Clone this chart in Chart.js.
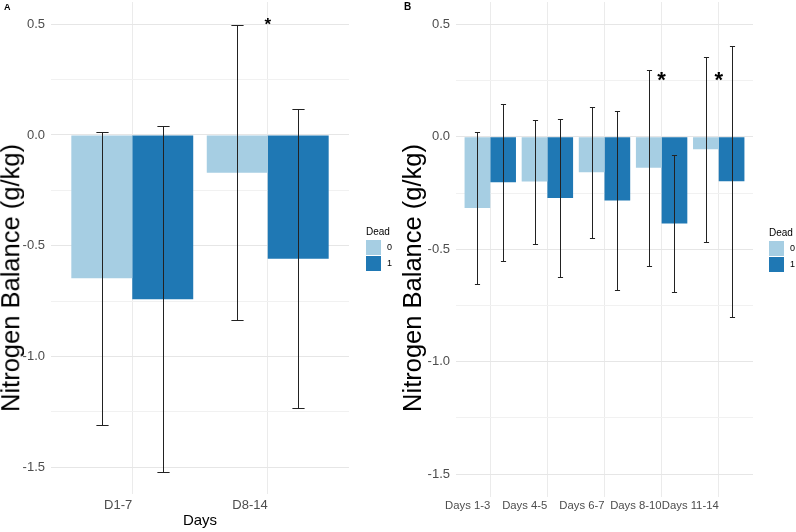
<!DOCTYPE html>
<html lang="en">
<head>
<meta charset="UTF-8">
<title>Nitrogen Balance</title>
<script src="https://cdn.jsdelivr.net/npm/chart.js"></script>
<style>
  body { margin: 0; background: #fff; font-family: 'Liberation Sans', Arial, sans-serif; }
  #wrap { position: relative; width: 796px; height: 532px; overflow: hidden; }
  .panel { position: absolute; top: 0; width: 398px; height: 532px; }
  .tag { position: absolute; font-weight: bold; color: #000; }
  .ytitle {
    position: absolute; font-size: 25.5px; line-height: 1; white-space: nowrap; color: #000;
    transform: translate(-50%, -50%) rotate(-90deg);
  }
  .leg-title { position: absolute; font-size: 10px; color: #000; }
  .key { position: absolute; width: 15px; height: 15px; }
  .key-lab { position: absolute; font-size: 9px; color: #000; line-height: 15px; }
</style>
</head>
<body>
<div id="wrap">
  <div class="panel" style="left:0"><canvas id="chartA" width="398" height="532"></canvas></div>
  <div class="panel" style="left:398px"><canvas id="chartB" width="398" height="532"></canvas></div>

  <div class="tag" style="left:4px; top:2px; font-size:9px">A</div>
  <div class="tag" style="left:404px; top:1px; font-size:10px">B</div>

  <div class="ytitle" style="left:10.5px; top:278px">Nitrogen Balance (g/kg)</div>
  <div class="ytitle" style="left:413px; top:278px">Nitrogen Balance (g/kg)</div>

  <div class="leg-title" style="left:366px; top:226px">Dead</div>
  <div class="key" style="left:366px; top:240px; background:#A6CEE3"></div>
  <div class="key" style="left:366px; top:256px; background:#1F78B4"></div>
  <div class="key-lab" style="left:387px; top:240px">0</div>
  <div class="key-lab" style="left:387px; top:256px">1</div>

  <div class="leg-title" style="left:769px; top:227px">Dead</div>
  <div class="key" style="left:769px; top:241px; background:#A6CEE3"></div>
  <div class="key" style="left:769px; top:257px; background:#1F78B4"></div>
  <div class="key-lab" style="left:790px; top:241px">0</div>
  <div class="key-lab" style="left:790px; top:257px">1</div>
</div>

<script>
  // panel A
  const daysA = ['D1-7', 'D8-14'];
  const aliveA = [-0.647, -0.170];
  const deadA = [-0.741, -0.558];
  const aliveErrA = [0.660, 0.667];
  const deadErrA = [0.780, 0.676];
  const starCatA = [2];
  const starValA = [0.514];

  // panel B
  const daysB = ['Days 1-3', 'Days 4-5', 'Days 6-7', 'Days 8-10', 'Days 11-14'];
  const aliveB = [-0.317, -0.199, -0.157, -0.137, -0.055];
  const deadB = [-0.202, -0.272, -0.283, -0.385, -0.198];
  const aliveErrB = [0.337, 0.276, 0.291, 0.436, 0.412];
  const deadErrB = [0.349, 0.352, 0.397, 0.303, 0.603];
  const starCatB = [4, 5];
  const starValB = [0.271, 0.271];

  const yMajor = [-1.5, -1.0, -0.5, 0.0, 0.5];
  const yMinor = [-1.25, -0.75, -0.25, 0.25];

  const LIGHT = '#A6CEE3';
  const DARK = '#1F78B4';
  const FONT = "'Liberation Sans', Arial, sans-serif";

  const errorBars = {
    id: 'errorBars',
    afterDatasetsDraw(chart) {
      const ctx = chart.ctx;
      const y = chart.scales.y;
      ctx.save();
      ctx.strokeStyle = '#222';
      ctx.lineWidth = 1;
      chart.data.datasets.forEach((ds, di) => {
        const meta = chart.getDatasetMeta(di);
        meta.data.forEach((bar, i) => {
          const m = ds.data[i].y;
          const e = ds.err[i];
          const top = Math.round(y.getPixelForValue(m + e)) + 0.5;
          const bot = Math.round(y.getPixelForValue(m - e)) + 0.5;
          const cx = Math.round(bar.x) + 0.5;
          const hw = bar.width * 0.1;
          ctx.beginPath();
          ctx.moveTo(cx, top); ctx.lineTo(cx, bot);
          ctx.moveTo(cx - hw, top); ctx.lineTo(cx + hw, top);
          ctx.moveTo(cx - hw, bot); ctx.lineTo(cx + hw, bot);
          ctx.stroke();
        });
      });
      ctx.restore();
    }
  };

  const stars = {
    id: 'stars',
    afterDatasetsDraw(chart, args, opts) {
      const ctx = chart.ctx;
      ctx.save();
      ctx.fillStyle = '#000';
      ctx.font = 'bold ' + opts.size + 'px ' + FONT;
      ctx.textAlign = 'center';
      ctx.textBaseline = 'alphabetic';
      opts.cats.forEach((c, i) => {
        const px = chart.scales.x.getPixelForValue(c);
        const py = chart.scales.y.getPixelForValue(opts.vals[i]);
        ctx.fillText('*', px, py + opts.size * 0.5);
      });
      ctx.restore();
    }
  };

  function makeChart(id, cats, alive, dead, aliveErr, deadErr, cfg) {
    const toPts = arr => arr.map((v, i) => ({ x: i + 1, y: v }));
    return new Chart(document.getElementById(id), {
      type: 'bar',
      data: {
        datasets: [
          { label: '0', data: toPts(alive), err: aliveErr, backgroundColor: LIGHT, borderWidth: 0 },
          { label: '1', data: toPts(dead), err: deadErr, backgroundColor: DARK, borderWidth: 0 }
        ]
      },
      options: {
        responsive: false,
        animation: false,
        categoryPercentage: 0.9,
        barPercentage: 1.0,
        layout: { padding: { left: 0, right: cfg.padRight, top: 2, bottom: 0 } },
        plugins: {
          legend: { display: false },
          tooltip: { enabled: false },
          stars: { cats: cfg.starCats, vals: cfg.starVals, size: cfg.starSize }
        },
        scales: {
          x: {
            type: 'linear',
            min: 0.4,
            max: cats.length + 0.6,
            offset: false,
            grid: { offset: false, color: '#ebebeb', drawTicks: false },
            border: { display: false },
            afterBuildTicks: s => { s.ticks = cats.map((c, i) => ({ value: i + 1 })); },
            afterFit: s => {
              s.height = cfg.xHeight;
              s.paddingLeft = 0; s.paddingRight = 0;
            },
            ticks: {
              autoSkip: false,
              maxRotation: 0,
              minRotation: 0,
              align: 'end',
              padding: cfg.xPad,
              color: '#4d4d4d',
              font: { family: FONT, size: cfg.xFont },
              callback: v => cats[Math.round(v) - 1]
            },
            title: {
              display: cfg.xTitle !== '',
              text: cfg.xTitle,
              color: '#000',
              font: { family: FONT, size: 15, lineHeight: 1 },
              padding: { top: 0, bottom: 4 }
            }
          },
          y: {
            min: cfg.yMin,
            max: 0.6,
            grid: {
              drawTicks: false,
              color: c => yMajor.includes(c.tick.value) ? '#e6e6e6' : '#f1f1f1'
            },
            border: { display: false },
            afterBuildTicks: s => {
              s.ticks = yMajor.concat(yMinor).sort((a, b) => a - b).map(v => ({ value: v }));
            },
            afterFit: s => {
              s.width = cfg.yWidth;
              s.paddingTop = 0; s.paddingBottom = 0;
            },
            ticks: {
              padding: cfg.yPad,
              color: '#4d4d4d',
              font: { family: FONT, size: 13 },
              callback: v => yMajor.includes(v) ? v.toFixed(1) : ''
            }
          }
        }
      },
      plugins: [errorBars, stars]
    });
  }

  makeChart('chartA', daysA, aliveA, deadA, aliveErrA, deadErrA, {
    padRight: 49, xHeight: 38, xPad: 4, xFont: 13, xTitle: 'Days',
    yMin: -1.62, yWidth: 51, yPad: 6,
    starCats: starCatA, starVals: starValA, starSize: 17
  });

  makeChart('chartB', daysB, aliveB, deadB, aliveErrB, deadErrB, {
    padRight: 43, xHeight: 35.5, xPad: 2.5, xFont: 11.3, xTitle: '',
    yMin: -1.6, yWidth: 58, yPad: 6,
    starCats: starCatB, starVals: starValB, starSize: 22
  });
</script>
</body>
</html>
